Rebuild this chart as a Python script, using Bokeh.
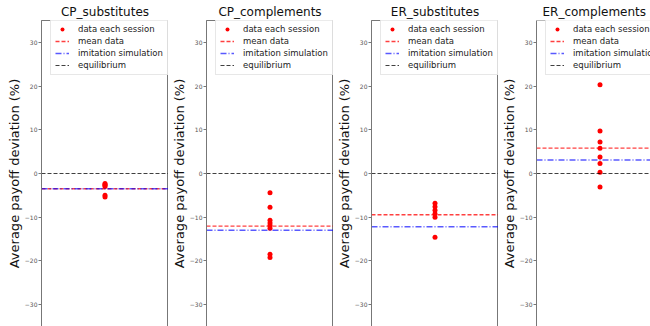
from bokeh.plotting import figure
from bokeh.layouts import row
from bokeh.models import Spacer, FixedTicker, Range1d, Span, Legend, LegendItem
from bokeh.embed import file_html
from bokeh.resources import INLINE

# Payoff deviation (%) per market treatment
titles = ["CP_substitutes", "CP_complements", "ER_substitutes", "ER_complements"]
sessions = [
    [-2.3, -2.5, -2.7, -3.0, -5.0, -5.4],
    [-4.4, -7.7, -10.7, -11.3, -11.9, -12.5, -18.5, -19.2],
    [-6.8, -7.6, -8.4, -9.2, -10.0, -14.6],
    [20.3, 9.7, 7.2, 5.8, 3.8, 2.3, 0.3, -3.1],
]
imitation = [-3.5, -13.0, -12.2, 3.1]
equilibrium = [0.0, 0.0, 0.0, 0.0]
y_ticks = [-30, -20, -10, 0, 10, 20, 30]
y_tick_labels = ["\u221230", "\u221220", "\u221210", "0", "10", "20", "30"]

FONT = "DejaVu Sans"
EDGE = "#777777"
FRAME_W = 127
FRAME_H = 306
LEFT = 38
Y_LO, Y_HI = -35, 35
TITLE_W = 115  # approx. rendered width of the last title at 12px


def panel(i, frame_w):
    x_lo = -1.0
    x_hi = x_lo + 2.0 * frame_w / FRAME_W
    p = figure(
        frame_width=frame_w, frame_height=FRAME_H,
        min_border_left=LEFT, min_border_right=0,
        min_border_top=0, min_border_bottom=1,
        x_range=Range1d(x_lo, x_hi), y_range=Range1d(Y_LO, Y_HI),
        title=titles[i], output_backend="svg", toolbar_location=None,
        background_fill_color="white", border_fill_color="white",
    )
    p.title.text_font = FONT
    p.title.text_font_size = "12px"
    p.title.text_font_style = "normal"
    p.title.text_color = "#111111"
    p.title.standoff = 4
    if frame_w < FRAME_W:
        # the last panel is cut by the page edge; keep its title over the column
        p.title.align = "left"
        p.title.offset = (FRAME_W - TITLE_W) / 2
    else:
        p.title.align = "center"

    p.xaxis.visible = False
    p.xgrid.visible = False
    p.ygrid.visible = False

    ax = p.yaxis[0]
    ax.ticker = FixedTicker(ticks=y_ticks, minor_ticks=[])
    ax.major_label_overrides = dict(zip(y_ticks, y_tick_labels))
    ax.major_label_text_font = FONT
    ax.major_label_text_font_size = "6px"
    ax.major_label_text_color = "#555555"
    ax.major_label_standoff = 1
    ax.major_tick_in = 0
    ax.major_tick_out = 3
    ax.major_tick_line_color = EDGE
    ax.minor_tick_line_color = None
    ax.axis_line_color = EDGE
    ax.axis_label = "Average payoff deviation (%)"
    ax.axis_label_text_font = FONT
    ax.axis_label_text_font_size = "13px"
    ax.axis_label_text_font_style = "normal"
    ax.axis_label_text_color = "#111111"
    ax.axis_label_standoff = 0

    vals = sessions[i]
    mean_val = sum(vals) / len(vals)
    xs = [0.0] * len(vals)

    pts = p.scatter(x=xs, y=vals, size=5, color="red", line_width=0)
    mean_r = p.line(x=[x_lo, x_hi], y=[mean_val, mean_val], line_color="red",
                    line_alpha=0.75, line_width=1.3, line_dash="4 2")
    imit_r = p.line(x=[x_lo, x_hi], y=[imitation[i], imitation[i]], line_color="blue",
                    line_alpha=0.65, line_width=1.5, line_dash="6 2 1 2")
    eq_r = p.line(x=[x_lo, x_hi], y=[equilibrium[i], equilibrium[i]], line_color="black",
                  line_alpha=0.75, line_width=1.2, line_dash="4 2")

    if i == 3:
        p.outline_line_color = None
        for loc in (Y_LO, Y_HI):
            p.add_layout(Span(location=loc, dimension="width", line_color=EDGE, line_width=1))
    else:
        p.outline_line_color = EDGE

    legend = Legend(
        items=[
            LegendItem(label="data each session", renderers=[pts]),
            LegendItem(label="mean data", renderers=[mean_r]),
            LegendItem(label="imitation simulation", renderers=[imit_r]),
            LegendItem(label="equilibrium", renderers=[eq_r]),
        ],
        location=(9, FRAME_H - 2 - 53),
        label_text_font=FONT, label_text_font_size="8.5px", label_text_color="#222222",
        label_height=10, glyph_height=10, glyph_width=14, label_standoff=9,
        spacing=2, padding=4, margin=0,
        border_line_color="#d0d0d0", border_line_width=1,
        background_fill_color="white", background_fill_alpha=0.85,
    )
    p.add_layout(legend, "center")
    return p


total_w = 650
figs = [panel(0, FRAME_W), panel(1, FRAME_W), panel(2, FRAME_W)]
last_w = total_w - 3 - 3 * (LEFT + FRAME_W) - LEFT
figs.append(panel(3, last_w))

layout = row(Spacer(width=3, height=326), *figs, spacing=0)
open("out.html", "w").write(file_html(layout, INLINE))
